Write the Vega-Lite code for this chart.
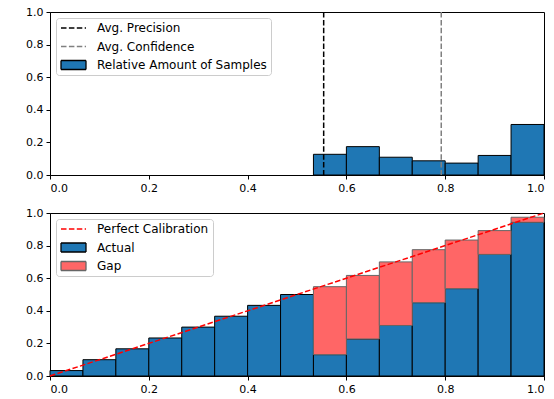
{
  "$schema": "https://vega.github.io/schema/vega-lite/v6.json",
  "background": "white",
  "padding": {"left": 25, "top": 5, "right": 1, "bottom": 2},
  "spacing": 12,
  "config": {
    "font": "DejaVu Sans",
    "view": {"stroke": "black", "strokeWidth": 1},
    "axis": {"grid": false, "domainColor": "black", "tickColor": "black", "labelColor": "black", "labelFontSize": 11, "labelFont": "DejaVu Sans", "tickSize": 4, "labelPadding": 3, "title": null, "domainWidth": 1, "tickWidth": 1, "labelOverlap": false},
    "legend": {
      "orient": "top-left", "offset": 6, "title": null,
      "fillColor": "rgba(255,255,255,0.8)", "strokeColor": "#cccccc", "cornerRadius": 3, "padding": 4,
      "labelFontSize": 12, "labelFont": "DejaVu Sans", "labelColor": "black", "labelOffset": 10, "labelLimit": 400,
      "symbolSize": 625, "clipHeight": 12, "rowPadding": 6.5, "symbolStrokeWidth": 1.3, "symbolOpacity": 1
    }
  },
  "resolve": {
    "scale": {"fill": "independent", "stroke": "independent", "strokeDash": "independent", "shape": "independent"},
    "legend": {"fill": "independent", "stroke": "independent", "strokeDash": "independent", "shape": "independent"}
  },
  "datasets": {
    "hist": [
      {"bin_start": 0.5333, "bin_end": 0.6, "fraction": 0.127},
      {"bin_start": 0.6, "bin_end": 0.6667, "fraction": 0.174},
      {"bin_start": 0.6667, "bin_end": 0.7333, "fraction": 0.109},
      {"bin_start": 0.7333, "bin_end": 0.8, "fraction": 0.087},
      {"bin_start": 0.8, "bin_end": 0.8667, "fraction": 0.073},
      {"bin_start": 0.8667, "bin_end": 0.9333, "fraction": 0.120},
      {"bin_start": 0.9333, "bin_end": 1.0, "fraction": 0.310}
    ],
    "avg": [
      {"series": "Avg. Precision", "value": 0.554},
      {"series": "Avg. Confidence", "value": 0.792}
    ],
    "rel": [
      {"bin_start": 0.0, "bin_end": 0.0667, "acc": 0.0333, "conf": 0.0333},
      {"bin_start": 0.0667, "bin_end": 0.1333, "acc": 0.1, "conf": 0.1},
      {"bin_start": 0.1333, "bin_end": 0.2, "acc": 0.1667, "conf": 0.1667},
      {"bin_start": 0.2, "bin_end": 0.2667, "acc": 0.2333, "conf": 0.2333},
      {"bin_start": 0.2667, "bin_end": 0.3333, "acc": 0.3, "conf": 0.3},
      {"bin_start": 0.3333, "bin_end": 0.4, "acc": 0.3667, "conf": 0.3667},
      {"bin_start": 0.4, "bin_end": 0.4667, "acc": 0.4333, "conf": 0.4333},
      {"bin_start": 0.4667, "bin_end": 0.5333, "acc": 0.5, "conf": 0.5},
      {"bin_start": 0.5333, "bin_end": 0.6, "acc": 0.131, "conf": 0.548},
      {"bin_start": 0.6, "bin_end": 0.6667, "acc": 0.227, "conf": 0.617},
      {"bin_start": 0.6667, "bin_end": 0.7333, "acc": 0.310, "conf": 0.700},
      {"bin_start": 0.7333, "bin_end": 0.8, "acc": 0.450, "conf": 0.775},
      {"bin_start": 0.8, "bin_end": 0.8667, "acc": 0.536, "conf": 0.834},
      {"bin_start": 0.8667, "bin_end": 0.9333, "acc": 0.746, "conf": 0.892},
      {"bin_start": 0.9333, "bin_end": 1.0, "acc": 0.943, "conf": 0.974}
    ],
    "diag": [
      {"x": 0, "y": 0},
      {"x": 1, "y": 1}
    ]
  },
  "vconcat": [
    {
      "width": 494,
      "height": 163,
      "layer": [
        {
          "data": {"name": "hist"},
          "mark": {"type": "bar", "stroke": "black", "strokeWidth": 1, "opacity": 1},
          "encoding": {
            "x": {"field": "bin_start", "type": "quantitative", "scale": {"domain": [0, 1], "nice": false}, "axis": {"values": [0, 0.2, 0.4, 0.6, 0.8, 1], "format": ".1f"}},
            "x2": {"field": "bin_end"},
            "y": {"field": "fraction", "type": "quantitative", "scale": {"domain": [0, 1], "nice": false}, "axis": {"values": [0, 0.2, 0.4, 0.6, 0.8, 1], "format": ".1f"}},
            "y2": {"datum": 0},
            "fill": {
              "datum": "Relative Amount of Samples", "type": "nominal", "title": null,
              "scale": {"domain": ["Avg. Precision", "Avg. Confidence", "Relative Amount of Samples"], "range": ["transparent", "transparent", "#1f77b4"]}
            }
          }
        },
        {
          "data": {"name": "avg"},
          "mark": {"type": "rule", "strokeWidth": 1.5},
          "encoding": {
            "x": {"field": "value", "type": "quantitative", "axis": {"values": [0, 0.2, 0.4, 0.6, 0.8, 1], "format": ".1f"}},
            "stroke": {
              "field": "series", "type": "nominal", "title": null,
              "scale": {"domain": ["Avg. Precision", "Avg. Confidence", "Relative Amount of Samples"], "range": ["black", "gray", "black"]}
            },
            "strokeDash": {
              "field": "series", "type": "nominal", "title": null,
              "scale": {"domain": ["Avg. Precision", "Avg. Confidence", "Relative Amount of Samples"], "range": [[5.5, 2.4], [5.5, 2.4], [1, 0]]}
            }
          }
        },
        {
          "data": {"name": "avg"},
          "transform": [{"filter": "false"}],
          "mark": {"type": "point"},
          "encoding": {
            "x": {"field": "value", "type": "quantitative", "axis": {"values": [0, 0.2, 0.4, 0.6, 0.8, 1], "format": ".1f"}},
            "shape": {
              "field": "series", "type": "nominal", "title": null,
              "scale": {"domain": ["Avg. Precision", "Avg. Confidence", "Relative Amount of Samples"], "range": ["stroke", "stroke", "M-1,-0.36H1V0.36H-1Z"]}
            }
          }
        }
      ]
    },
    {
      "width": 494,
      "height": 163,
      "layer": [
        {
          "data": {"name": "rel"},
          "mark": {"type": "bar", "stroke": "black", "strokeWidth": 1, "opacity": 1},
          "encoding": {
            "x": {"field": "bin_start", "type": "quantitative", "scale": {"domain": [0, 1], "nice": false}, "axis": {"values": [0, 0.2, 0.4, 0.6, 0.8, 1], "format": ".1f"}},
            "x2": {"field": "bin_end"},
            "y": {"field": "acc", "type": "quantitative", "scale": {"domain": [0, 1], "nice": false}, "axis": {"values": [0, 0.2, 0.4, 0.6, 0.8, 1], "format": ".1f"}},
            "y2": {"datum": 0},
            "fill": {
              "datum": "Actual", "type": "nominal", "title": null,
              "scale": {"domain": ["Perfect Calibration", "Actual", "Gap"], "range": ["transparent", "#1f77b4", "#ff6666"]}
            }
          }
        },
        {
          "data": {"name": "rel"},
          "transform": [{"filter": "datum.conf > datum.acc"}],
          "mark": {"type": "bar", "stroke": "#666666", "strokeWidth": 1, "opacity": 1},
          "encoding": {
            "x": {"field": "bin_start", "type": "quantitative", "axis": {"values": [0, 0.2, 0.4, 0.6, 0.8, 1], "format": ".1f"}},
            "x2": {"field": "bin_end"},
            "y": {"field": "acc", "type": "quantitative", "axis": {"values": [0, 0.2, 0.4, 0.6, 0.8, 1], "format": ".1f"}},
            "y2": {"field": "conf"},
            "fill": {"datum": "Gap", "type": "nominal", "title": null}
          }
        },
        {
          "data": {"name": "diag"},
          "mark": {"type": "line", "strokeWidth": 1.5},
          "encoding": {
            "x": {"field": "x", "type": "quantitative", "axis": {"values": [0, 0.2, 0.4, 0.6, 0.8, 1], "format": ".1f"}},
            "y": {"field": "y", "type": "quantitative", "axis": {"values": [0, 0.2, 0.4, 0.6, 0.8, 1], "format": ".1f"}},
            "stroke": {
              "datum": "Perfect Calibration", "type": "nominal", "title": null,
              "scale": {"domain": ["Perfect Calibration", "Actual", "Gap"], "range": ["red", "black", "#666666"]}
            },
            "strokeDash": {
              "datum": "Perfect Calibration", "type": "nominal", "title": null,
              "scale": {"domain": ["Perfect Calibration", "Actual", "Gap"], "range": [[5.5, 2.4], [1, 0], [1, 0]]}
            }
          }
        },
        {
          "data": {"name": "diag"},
          "transform": [{"filter": "false"}],
          "mark": {"type": "point"},
          "encoding": {
            "x": {"field": "x", "type": "quantitative", "axis": {"values": [0, 0.2, 0.4, 0.6, 0.8, 1], "format": ".1f"}},
            "shape": {
              "datum": "Perfect Calibration", "type": "nominal", "title": null,
              "scale": {"domain": ["Perfect Calibration", "Actual", "Gap"], "range": ["stroke", "M-1,-0.36H1V0.36H-1Z", "M-1,-0.36H1V0.36H-1Z"]}
            }
          }
        }
      ]
    }
  ]
}
